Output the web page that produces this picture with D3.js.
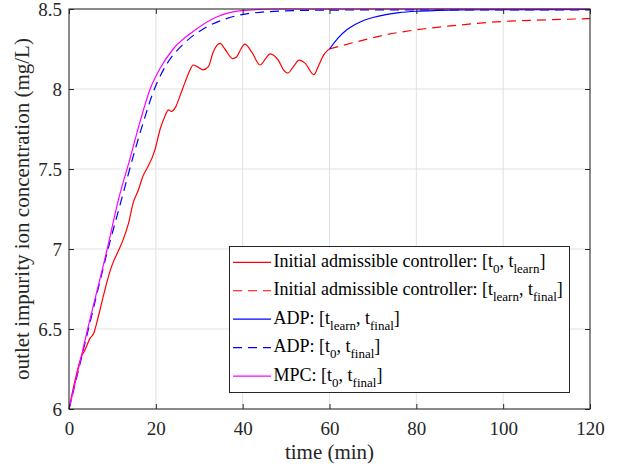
<!DOCTYPE html>
<html>
<head>
<meta charset="utf-8">
<script src="https://cdn.jsdelivr.net/npm/d3@7"></script>
<style>
  html, body { margin: 0; padding: 0; background: #fff; }
  svg { display: block; }
  svg text { font-family: "Liberation Serif", "Times New Roman", serif; }
</style>
</head>
<body>
<svg id="chart" width="620" height="470"></svg>
<script>
// Initial admissible controller on [t0, tlearn]
const timeInitLearn = [0, 1.4, 2.9, 3.7, 4.8, 5.8, 6.4, 7.5, 8.7, 9.8, 11.4, 12.5, 13.7, 14.8, 16, 17.1, 17.9,
  19.8, 21, 22.1, 22.9, 23.6, 24.6, 25.6, 26.7, 27.9, 28.6, 29.5, 30.9, 32.1, 33.2, 34.8, 35.9, 37.7, 38.6,
  39.6, 40.5, 42.1, 44, 45.3, 46.3, 48.2, 49.4, 50.4, 51.7, 53, 54.4, 56.4, 57.4, 58.6, 59.5, 60];
const concInitLearn = [6, 6.18, 6.33, 6.37, 6.44, 6.48, 6.54, 6.66, 6.79, 6.89, 6.99, 7.06, 7.16, 7.29, 7.37, 7.46, 7.5,
  7.62, 7.75, 7.83, 7.87, 7.86, 7.89, 7.96, 8.04, 8.12, 8.15, 8.14, 8.12, 8.14, 8.23, 8.285, 8.25, 8.19, 8.2,
  8.25, 8.28, 8.23, 8.15, 8.19, 8.22, 8.18, 8.12, 8.1, 8.14, 8.18, 8.16, 8.09, 8.14, 8.21, 8.24, 8.25];

// Initial admissible controller on [tlearn, tfinal]
const timeInitFinal = [60, 62, 65.5, 70, 73.2, 80, 90, 100, 110, 120];
const concInitFinal = [8.25, 8.265, 8.29, 8.32, 8.34, 8.37, 8.4, 8.422, 8.432, 8.44];

// ADP on [tlearn, tfinal]
const timeAdpLearn = [60, 62, 64, 66, 68, 70, 73, 76, 80, 85, 90, 100, 120];
const concAdpLearn = [8.25, 8.32, 8.37, 8.405, 8.43, 8.447, 8.465, 8.477, 8.486, 8.491, 8.494, 8.496, 8.497];

// ADP on [t0, tfinal]
const timeAdpFull = [0, 4.3, 8.8, 12.1, 14.8, 17.1, 19.6, 22.5, 26.3, 30.9, 36.3, 40.9, 51.7, 60, 80, 120];
const concAdpFull = [6, 6.48, 6.98, 7.31, 7.58, 7.79, 7.995, 8.155, 8.28, 8.375, 8.44, 8.47, 8.49, 8.493, 8.495, 8.495];

// MPC on [t0, tfinal]
const timeMpc = [0, 4.3, 8.8, 11.4, 14, 16.3, 18.7, 21, 24, 28.6, 34, 39.8, 48, 60, 120];
const concMpc = [6, 6.5, 7, 7.31, 7.56, 7.79, 8, 8.13, 8.25, 8.36, 8.45, 8.49, 8.5, 8.5, 8.5];

const xTicks = [0, 20, 40, 60, 80, 100, 120];
const yTicks = [6, 6.5, 7, 7.5, 8, 8.5];

const svg = d3.select("#chart");
const plotL = 69, plotR = 590, plotT = 9, plotB = 409;
const ink = "#262626";
const serif = "'Liberation Serif', 'Times New Roman', serif";

const x = d3.scaleLinear().domain([0, 120]).range([plotL, plotR]);
const y = d3.scaleLinear().domain([6, 8.5]).range([plotB, plotT]);

// grid
const grid = svg.append("g").attr("stroke", "#e1e1e1").attr("stroke-width", 1);
xTicks.forEach(t => grid.append("line").attr("x1", x(t)).attr("x2", x(t)).attr("y1", plotT).attr("y2", plotB));
yTicks.forEach(v => grid.append("line").attr("x1", plotL).attr("x2", plotR).attr("y1", y(v)).attr("y2", y(v)));

// series
const series = [
  { t: timeInitLearn, v: concInitLearn, color: "#ff0000", dash: null },
  { t: timeInitFinal, v: concInitFinal, color: "#ff0000", dash: "9,6" },
  { t: timeAdpLearn, v: concAdpLearn, color: "#0000ff", dash: null },
  { t: timeAdpFull, v: concAdpFull, color: "#0000ff", dash: "9,6" },
  { t: timeMpc, v: concMpc, color: "#ff00ff", dash: null }
];
const line = d3.line().x(d => x(d[0])).y(d => y(d[1])).curve(d3.curveMonotoneX);
series.forEach(s => {
  svg.append("path")
    .datum(d3.zip(s.t, s.v))
    .attr("d", line)
    .attr("fill", "none")
    .attr("stroke", s.color)
    .attr("stroke-width", 1.2)
    .attr("stroke-dasharray", s.dash);
});

// axes (ticks inward on all four sides)
const fmtY = d => String(d);
const axB = svg.append("g").attr("transform", `translate(0,${plotB})`)
  .call(d3.axisBottom(x).tickValues(xTicks).tickSizeInner(-5).tickSizeOuter(0).tickPadding(12.5));
const axT = svg.append("g").attr("transform", `translate(0,${plotT})`)
  .call(d3.axisTop(x).tickValues(xTicks).tickSizeInner(-5).tickSizeOuter(0).tickFormat(""));
const axL = svg.append("g").attr("transform", `translate(${plotL},0)`)
  .call(d3.axisLeft(y).tickValues(yTicks).tickSizeInner(-5).tickSizeOuter(0).tickPadding(7).tickFormat(fmtY));
const axR = svg.append("g").attr("transform", `translate(${plotR},0)`)
  .call(d3.axisRight(y).tickValues(yTicks).tickSizeInner(-5).tickSizeOuter(0).tickFormat(""));
[axB, axT, axL, axR].forEach(g => {
  g.attr("font-family", serif).attr("font-size", 19);
  g.select(".domain").remove();
  g.selectAll(".tick line").attr("stroke", ink);
  g.selectAll(".tick text").attr("fill", ink);
});
svg.append("rect").attr("x", plotL).attr("y", plotT).attr("width", plotR - plotL).attr("height", plotB - plotT)
  .attr("fill", "none").attr("stroke", ink).attr("stroke-width", 1);

// axis labels
svg.append("text").attr("x", (plotL + plotR) / 2).attr("y", 459).attr("text-anchor", "middle")
  .attr("fill", ink).attr("font-family", serif).attr("font-size", 21).text("time (min)");
svg.append("text").attr("transform", `translate(29,${(plotT + plotB) / 2}) rotate(-90)`)
  .attr("text-anchor", "middle").attr("fill", ink).attr("font-family", serif).attr("font-size", 21)
  .text("outlet impurity ion concentration (mg/L)");

// legend
const legendItems = [
  { parts: [["Initial admissible controller: [t"], ["0", 1], [", t"], ["learn", 1], ["]"]], color: "#ff0000", dash: null },
  { parts: [["Initial admissible controller: [t"], ["learn", 1], [", t"], ["final", 1], ["]"]], color: "#ff0000", dash: "9,6" },
  { parts: [["ADP: [t"], ["learn", 1], [", t"], ["final", 1], ["]"]], color: "#0000ff", dash: null },
  { parts: [["ADP: [t"], ["0", 1], [", t"], ["final", 1], ["]"]], color: "#0000ff", dash: "9,6" },
  { parts: [["MPC: [t"], ["0", 1], [", t"], ["final", 1], ["]"]], color: "#ff00ff", dash: null }
];
const lg = svg.append("g").attr("font-family", serif);
lg.append("rect").attr("x", 229.5).attr("y", 246.5).attr("width", 340).attr("height", 146)
  .attr("fill", "#fff").attr("stroke", ink).attr("stroke-width", 1);
legendItems.forEach((item, i) => {
  const cy = 262.3 + i * 28.45;
  lg.append("line").attr("x1", 233).attr("x2", 271).attr("y1", cy).attr("y2", cy)
    .attr("stroke", item.color).attr("stroke-width", 1.2).attr("stroke-dasharray", item.dash);
  const txt = lg.append("text").attr("x", 273.5).attr("y", cy + 4.6).attr("fill", "#000").attr("font-size", 18);
  let sub = false;
  item.parts.forEach(([s, isSub]) => {
    const ts = txt.append("tspan").text(s);
    if (isSub && !sub) { ts.attr("dy", 6).attr("font-size", 13); sub = true; }
    else if (isSub) { ts.attr("font-size", 13); }
    else if (sub) { ts.attr("dy", -6); sub = false; }
  });
});
</script>
</body>
</html>
